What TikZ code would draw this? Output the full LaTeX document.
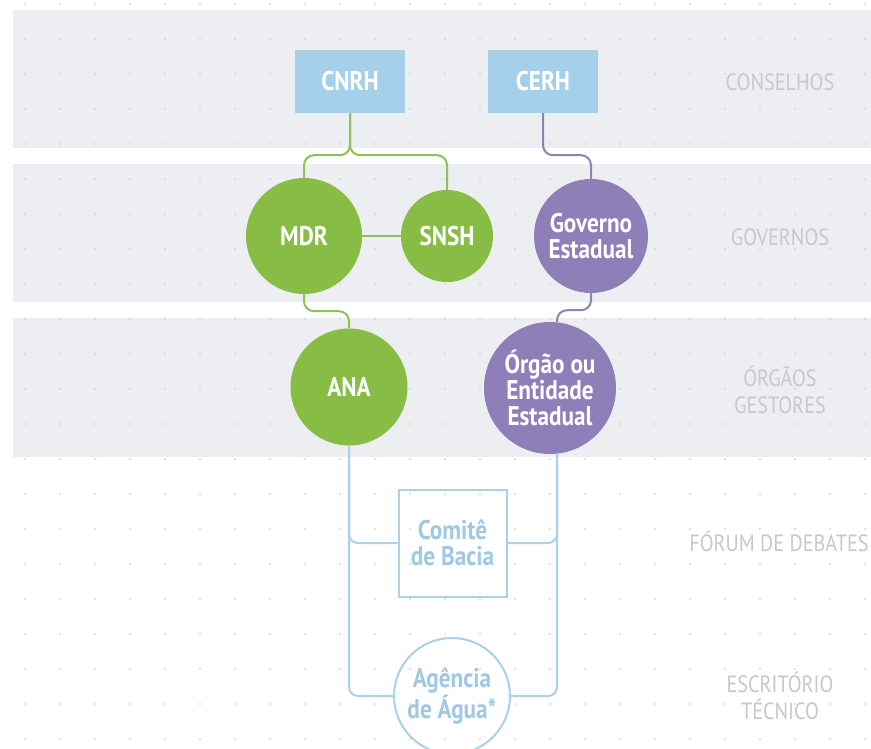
\documentclass[tikz,border=0pt]{standalone}
\usepackage{fontspec}
\setmainfont[FakeStretch=0.86]{PT Sans}
\newfontfamily\nodefam[FakeStretch=0.86]{PT Sans}
\definecolor{bandc}{HTML}{EDEEF2}
\definecolor{dotc}{HTML}{D6D8DD}
\definecolor{boxblue}{HTML}{A5D0EA}
\definecolor{grn}{HTML}{88BD45}
\definecolor{grnline}{HTML}{8EC156}
\definecolor{purp}{HTML}{8E7FB8}
\definecolor{purpline}{HTML}{8A85B2}
\definecolor{lblue}{HTML}{A9D1E8}
\definecolor{lbluetext}{HTML}{9FC9E2}
\definecolor{labc}{HTML}{C6C8CC}
\tikzset{
  band/.style={fill=bandc},
  nodefont/.style={font=\nodefam\bfseries\fontsize{27}{26}\selectfont, align=center},
  bbox/.style={nodefont, fill=boxblue, text=white, minimum width=110pt, minimum height=63pt, inner sep=0pt},
  gcirc/.style={nodefont, circle, fill=grn, text=white, inner sep=0pt},
  pcirc/.style={nodefont, circle, fill=purp, text=white, inner sep=0pt},
  cbox/.style={nodefont, draw=lblue, line width=2pt, text=lbluetext, minimum width=108pt, minimum height=107pt, inner sep=0pt},
  acirc/.style={nodefont, circle, draw=lblue, line width=2pt, text=lbluetext, minimum size=116pt, inner sep=0pt},
  lab/.style={font=\fontsize{23.5}{27}\selectfont, align=center, text=labc},
  gline/.style={draw=grnline, line width=2pt, rounded corners=10pt},
  pline/.style={draw=purpline, line width=2pt, rounded corners=10pt},
  bline/.style={draw=lblue, line width=2pt, rounded corners=9pt}
}
\begin{document}
\begin{tikzpicture}[x=1pt,y=-1pt]
\useasboundingbox (0,0) rectangle (871,749);
\fill[white] (0,0) rectangle (871,749);
% bands
\fill[band] (13,10) rectangle (871,148);
\fill[band] (13,164) rectangle (871,302);
\fill[band] (13,318) rectangle (871,457);
% dot grid
\foreach \i in {0,...,24}{
  \foreach \j in {0,...,21}{
    \fill[dotc] (25+35*\i,4+35*\j) circle (1.1pt);
  }
}
% nodes
\node[bbox] (cnrh) at (350,81.5) {CNRH};
\node[bbox] (cerh) at (543,81.5) {CERH};
\node[gcirc, minimum size=116pt] (mdr) at (304,236) {MDR};
\node[gcirc, minimum size=92pt] (snsh) at (447,236) {SNSH};
\node[pcirc, minimum size=114pt] (gov) at (591,236) {Governo\\Estadual};
\node[gcirc, minimum size=117pt] (ana) at (349,387) {ANA};
\node[pcirc, minimum size=132pt] (org) at (550,388) {Órgão ou\\Entidade\\Estadual};
\node[cbox] (comite) at (452.5,543) {Comitê\\de Bacia};
\node[acirc] (agencia) at (452,696) {Agência\\de Água*};
% connectors
\draw[gline] (cnrh.south) -- ++(0,42) -| (mdr.north);
\draw[gline] (cnrh.south) -- ++(0,42) -| (snsh.north);
\draw[pline] (cerh.south) -- ++(0,42) -| (gov.north);
\draw[gline, rounded corners=0pt] (mdr.east) -- (snsh.west);
\draw[gline] (mdr.south) -- ++(0,17) -| (ana.north);
\draw[pline] (gov.south) -- ++(0,17) -| ([xshift=7pt]org.north);
\draw[bline] (ana.south) |- (comite.west);
\draw[bline] (ana.south) |- (agencia.west);
\draw[bline] ([xshift=7pt]org.south) |- (comite.east);
\draw[bline] ([xshift=7pt]org.south) |- (agencia.east);
% row labels
\node[lab] (l1) at (780,82) {CONSELHOS};
\node[lab] (l2) at (780,237) {GOVERNOS};
\node[lab] (l3) at (780,390) {ÓRGÃOS\\GESTORES};
\node[lab] (l4) at (779,541) {FÓRUM DE DEBATES};
\node[lab] (l5) at (780,696) {ESCRITÓRIO\\TÉCNICO};
\end{tikzpicture}
\end{document}
